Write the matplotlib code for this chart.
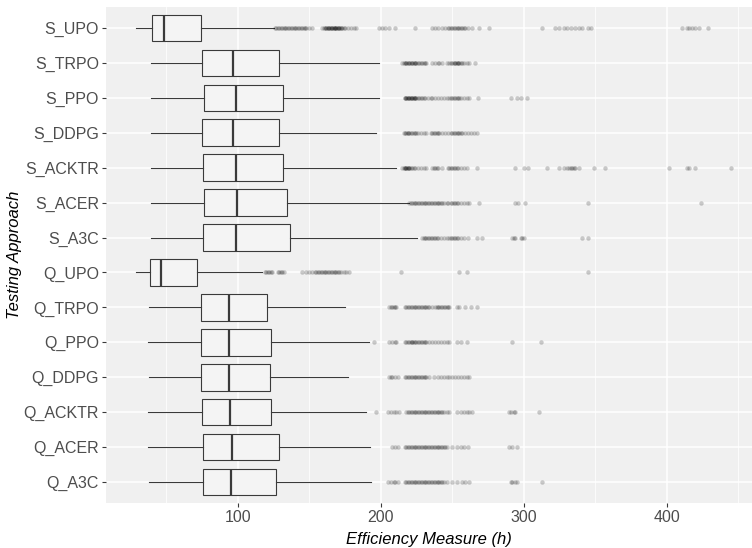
import matplotlib
matplotlib.use('Agg')
import matplotlib.pyplot as plt
from matplotlib.ticker import MultipleLocator

plt.rcParams['font.family'] = ['Liberation Sans', 'DejaVu Sans']

# categories, top to bottom as shown in the chart
approaches = ['S_UPO', 'S_TRPO', 'S_PPO', 'S_DDPG', 'S_ACKTR', 'S_ACER', 'S_A3C',
              'Q_UPO', 'Q_TRPO', 'Q_PPO', 'Q_DDPG', 'Q_ACKTR', 'Q_ACER', 'Q_A3C']

# box statistics (hours)
whisk_lo = [29, 39, 39, 39, 39, 39, 39, 28.7, 37.8, 37.3, 37.8, 37.3, 37, 37.8]
q1 = [40, 75, 76.4, 75.2, 75.7, 76.4, 75.9, 38.7, 74.3, 74.3, 74.3, 75, 75.5, 75.5]
median = [48.5, 96.3, 98.4, 96.7, 98.6, 99.3, 99, 46.2, 94, 94, 94, 94.4, 96, 95.3]
q3 = [74.3, 129, 131.7, 129, 131.5, 134.5, 136.4, 71.1, 120.5, 122.9, 122.2, 122.9, 128.7, 126.8]
whisk_hi = [125, 199, 199, 196.5, 210.5, 220, 225.7, 116.6, 175.3, 191.8, 177.4, 190, 192.8, 193.5]

# outliers (hours)
out_s_upo = [126, 127, 128, 129, 130, 131, 132, 133, 134, 135, 136, 137, 138, 139, 140, 141,
             142, 143, 144, 145, 146, 147, 148, 150, 152,
             159, 160, 161, 162, 162, 163, 163, 164, 164, 165, 165, 166, 166, 167, 167, 168,
             168, 169, 169, 170, 170, 171, 171, 172, 172, 173, 174, 175, 177, 179, 181, 183,
             199, 201, 203, 206, 210, 224, 236, 238, 240, 243, 245, 247, 248, 249, 250, 251,
             252, 253, 254, 255, 256, 257, 258, 259, 261, 264, 269, 276,
             313, 322, 325, 328, 330, 333, 336, 339, 341, 345, 347,
             411, 414, 416, 418, 420, 423, 429]
out_s_trpo = [215, 216, 217, 218, 218, 219, 220, 220, 221, 222, 222, 223, 224, 224, 225, 226,
              227, 228, 229, 230, 231, 232, 236, 238, 240, 241, 243,
              246, 248, 249, 250, 251, 252, 252, 253, 254, 254, 255, 256, 257, 258, 260, 262, 266]
out_s_ppo = [217, 217, 218, 218, 219, 219, 220, 220, 221, 221, 222, 222, 223, 223, 224, 224,
             225, 226, 227, 228, 229, 230, 231, 233, 235, 236, 238, 240, 242, 244, 246, 248,
             249, 250, 251, 252, 253, 254, 255, 256, 258, 260, 262, 268, 291, 295, 298, 302]
out_s_ddpg = [216, 217, 218, 219, 219, 220, 221, 222, 223, 224, 225, 226, 228, 230, 232,
              235, 236, 237, 238, 239, 240, 241, 243, 245, 247, 249, 250, 251, 252, 253, 254,
              255, 256, 257, 259, 261, 263, 265, 267]
out_s_acktr = [215, 216, 217, 217, 218, 218, 219, 219, 220, 220, 221, 222, 223, 224, 226, 228,
               230, 232, 236, 237, 238, 239, 240, 243, 247, 248, 249, 250, 251, 252, 253, 254,
               256, 258, 260, 267, 294, 300, 303, 316, 325, 328, 330, 332, 333, 334, 335, 336,
               339, 349, 357, 402, 414, 416, 420, 445]
out_s_acer = [220, 221, 222, 223, 224, 225, 226, 227, 228, 229, 230, 231, 232, 233, 234, 235,
              236, 237, 238, 239, 240, 241, 242, 243, 244, 246, 247, 249, 250, 251, 252, 253,
              254, 256, 258, 260, 262, 269, 294, 296, 301, 345, 424]
out_s_a3c = [229, 230, 231, 232, 233, 234, 235, 236, 237, 238, 239, 240, 242, 244, 246,
             248, 249, 250, 251, 252, 253, 254, 256, 258, 261, 267, 271,
             292, 293, 294, 298, 299, 300, 341, 345]
out_q_upo = [119, 120, 121, 122, 123, 124, 128, 129, 130, 131, 132,
             145, 148, 150, 152, 154, 155, 156, 157, 158, 159, 160, 161, 162, 163, 164, 165,
             166, 167, 168, 169, 170, 171, 172, 174, 176, 178, 214, 255, 260, 345]
out_q_trpo = [206, 207, 208, 209, 210, 211, 217, 218, 219, 220, 221, 222, 223, 224, 225, 226,
              227, 228, 229, 230, 231, 232, 233, 234, 236, 238, 239, 240, 241, 242, 243, 244,
              245, 246, 247, 248, 253, 255, 259, 263, 267]
out_q_ppo = [195, 206, 208, 210, 211, 217, 218, 219, 220, 221, 222, 222, 223, 224, 225, 226,
             227, 228, 229, 230, 231, 232, 234, 236, 238, 240, 242, 244, 246, 248,
             253, 256, 260, 292, 312]
out_q_ddpg = [206, 207, 208, 210, 212, 217, 218, 219, 220, 221, 222, 223, 224, 225, 226, 227,
              228, 229, 230, 231, 232, 234, 237, 240, 242, 244, 246, 248,
              250, 252, 254, 256, 258, 260, 262]
out_q_acktr = [197, 205, 207, 209, 211, 213, 218, 219, 220, 221, 222, 223, 224, 225, 226, 227,
               228, 229, 230, 231, 232, 233, 234, 235, 236, 237, 238, 239, 240, 241, 242, 243,
               244, 246, 248, 253, 256, 258, 260, 262, 264, 290, 291, 293, 294, 311]
out_q_acer = [208, 210, 212, 217, 218, 219, 220, 221, 222, 223, 224, 225, 226, 227, 228, 229,
              230, 231, 232, 233, 234, 235, 236, 237, 238, 239, 240, 241, 242, 243, 244, 245,
              246, 250, 253, 256, 258, 261, 290, 292, 295]
out_q_a3c = [205, 207, 209, 210, 212, 217, 218, 219, 220, 221, 222, 223, 224, 225, 226, 227,
             228, 229, 230, 231, 232, 233, 234, 235, 236, 237, 238, 239, 240, 241, 242, 243,
             244, 246, 250, 253, 257, 259, 262, 291, 292, 294, 295, 313]

outliers = [out_s_upo, out_s_trpo, out_s_ppo, out_s_ddpg, out_s_acktr, out_s_acer, out_s_a3c,
            out_q_upo, out_q_trpo, out_q_ppo, out_q_ddpg, out_q_acktr, out_q_acer, out_q_a3c]

# build stats for bxp; first category goes on top
n = len(approaches)
stats = []
for i in range(n):
    stats.append({'whislo': whisk_lo[i], 'q1': q1[i], 'med': median[i], 'q3': q3[i],
                  'whishi': whisk_hi[i], 'fliers': outliers[i], 'label': approaches[i]})
positions = [n - i for i in range(n)]

fig = plt.figure(figsize=(7.52, 5.48), dpi=100)
ax = fig.add_axes([106 / 752, 1 - 503 / 548, 646 / 752, 496 / 548])
ax.set_facecolor('#F0F0F0')

line_col = '#3A3A3A'
ax.bxp(stats, positions=positions, orientation='horizontal', widths=0.76,
       patch_artist=True, showcaps=False, manage_ticks=False,
       boxprops=dict(facecolor='#F4F4F4', edgecolor=line_col, linewidth=0.8),
       whiskerprops=dict(color=line_col, linewidth=0.8),
       medianprops=dict(color=line_col, linewidth=1.6),
       flierprops=dict(marker='o', markersize=3.2, markerfacecolor='black',
                       markeredgecolor='none', alpha=0.2))

ax.set_xlim(7.7, 459.8)
ax.set_ylim(0.4, n + 0.6)
ax.xaxis.set_major_locator(MultipleLocator(100))
ax.xaxis.set_minor_locator(MultipleLocator(50))
ax.set_yticks(positions)
ax.set_yticklabels(approaches)

ax.set_axisbelow(True)
ax.grid(which='major', color='white', linewidth=1.1)
ax.grid(which='minor', axis='x', color='white', linewidth=0.55)
for s in ax.spines.values():
    s.set_visible(False)
ax.tick_params(which='major', length=3, width=0.8, color=line_col,
               labelcolor='#4D4D4D', labelsize=11.5, pad=2)
ax.tick_params(which='minor', length=0)

ax.set_xlabel('Efficiency Measure (h)', fontsize=12, style='italic', labelpad=5)
ax.set_ylabel('Testing Approach', fontsize=12, style='italic', labelpad=1)

fig.savefig('out.png', dpi=100)
